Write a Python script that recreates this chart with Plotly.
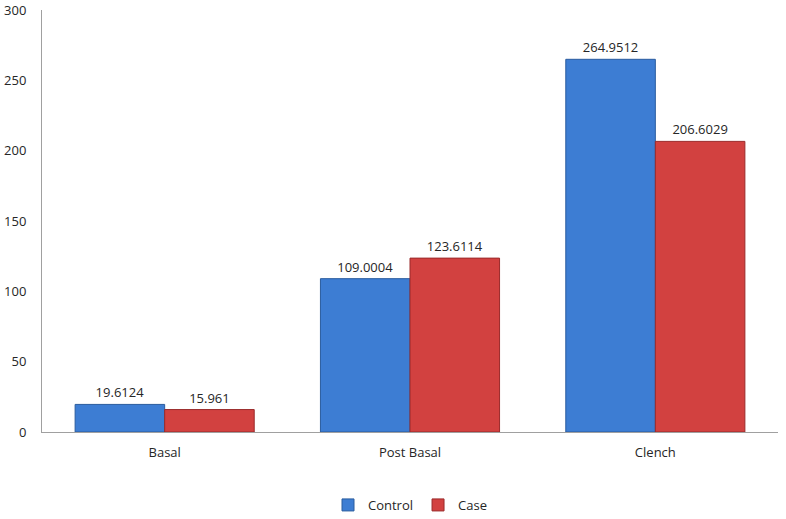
import plotly.graph_objects as go

categories = ["Basal", "Post Basal", "Clench"]
control = [19.6124, 109.0004, 264.9512]
case = [15.961, 123.6114, 206.6029]
control_labels = ["19.6124", "109.0004", "264.9512"]
case_labels = ["15.961", "123.6114", "206.6029"]

font = dict(family="Open Sans, Liberation Sans, sans-serif", size=13, color="#262626")

fig = go.Figure()
fig.add_trace(go.Bar(
    name="Control", x=categories, y=control, text=control_labels,
    textposition="outside", cliponaxis=False,
    marker=dict(color="#3D7DD3", line=dict(color="#2A5C9E", width=1)),
    textfont=dict(size=13, color="#262626"),
))
fig.add_trace(go.Bar(
    name="Case", x=categories, y=case, text=case_labels,
    textposition="outside", cliponaxis=False,
    marker=dict(color="#D24140", line=dict(color="#9A2A2A", width=1)),
    textfont=dict(size=13, color="#262626"),
))

fig.update_layout(
    width=786, height=519,
    margin=dict(l=42, r=8, t=10, b=87),
    paper_bgcolor="white", plot_bgcolor="white",
    font=font,
    barmode="group", bargap=0.27, bargroupgap=0,
    showlegend=True,
    legend=dict(orientation="h", x=0.5, xanchor="center",
                yref="container", y=0.027, yanchor="middle",
                font=dict(size=13), itemwidth=30, traceorder="normal"),
    xaxis=dict(showline=True, linecolor="#A0A0A0", linewidth=1, showgrid=False,
               ticks="", tickfont=dict(size=13), automargin=False, ticklabelstandoff=8),
    yaxis=dict(range=[0, 300], dtick=50, showline=True, linecolor="#A0A0A0", linewidth=1,
               showgrid=False, zeroline=False, ticks="", tickfont=dict(size=13),
               automargin=False, ticklabelstandoff=12),
)

fig.write_html("out.html", config={"displayModeBar": False},
               post_script="document.body.style.margin='0';")
